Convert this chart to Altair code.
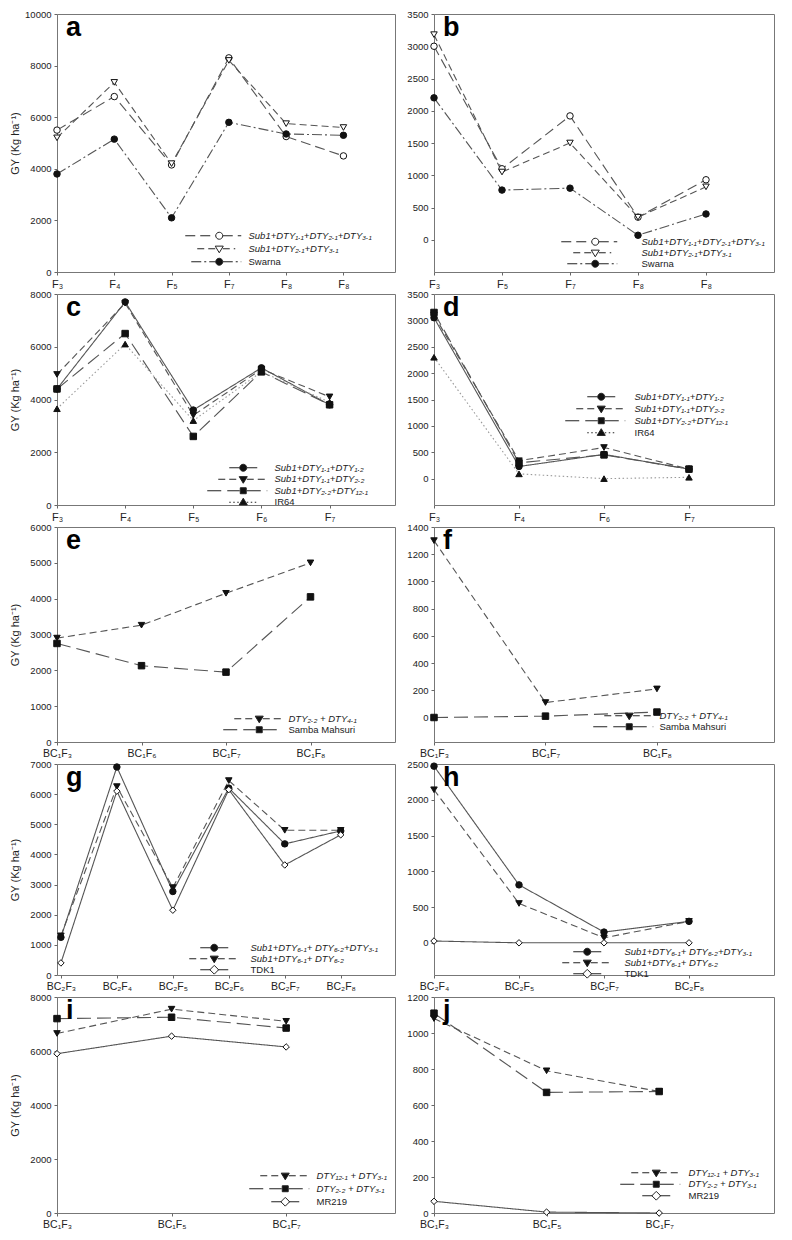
import json
import altair as alt
import pandas as pd

# ---------------- data ----------------
a_x = ["F₃", "F₄", "F₅", "F₇", "F₈", "F₈"]
a_s1 = [5500, 6800, 4150, 8300, 5250, 4500]
a_s2 = [5200, 7350, 4200, 8200, 5750, 5600]
a_s3 = [3800, 5150, 2100, 5800, 5350, 5300]

b_x = ["F₃", "F₅", "F₇", "F₈", "F₈"]
b_s1 = [3000, 1100, 1920, 350, 930]
b_s2 = [3180, 1050, 1500, 350, 820]
b_s3 = [2200, 770, 800, 70, 400]

c_x = ["F₃", "F₄", "F₅", "F₆", "F₇"]
c_s1 = [4400, 7700, 3600, 5200, 3800]
c_s2 = [4950, 7650, 3400, 5150, 4100]
c_s3 = [4400, 6500, 2600, 5050, 3800]
c_s4 = [3650, 6100, 3200, 5050, 3900]

d_x = ["F₃", "F₄", "F₆", "F₇"]
d_s1 = [3050, 230, 460, 180]
d_s2 = [3100, 340, 590, 180]
d_s3 = [3150, 300, 450, 180]
d_s4 = [2300, 90, 0, 25]

e_x = ["BC₁F₃", "BC₁F₆", "BC₁F₇", "BC₁F₈"]
e_s1 = [2900, 3260, 4150, 5000]
e_s2 = [2750, 2130, 1950, 4050]

f_x = ["BC₁F₃", "BC₁F₇", "BC₁F₈"]
f_s1 = [1300, 110, 210]
f_s2 = [0, 10, 40]

g_x = ["BC₂F₃", "BC₂F₄", "BC₂F₅", "BC₂F₆", "BC₂F₇", "BC₂F₈"]
g_s1 = [1250, 6900, 2770, 6200, 4350, 4780]
g_s2 = [1300, 6250, 2900, 6450, 4800, 4800]
g_s3 = [400, 6100, 2150, 6150, 3650, 4650]

h_x = ["BC₂F₄", "BC₂F₅", "BC₂F₇", "BC₂F₈"]
h_s1 = [2470, 810, 150, 300]
h_s2 = [2140, 550, 70, 300]
h_s3 = [25, 0, 0, 0]

i_x = ["BC₁F₃", "BC₁F₅", "BC₁F₇"]
i_s1 = [6650, 7550, 7100]
i_s2 = [7200, 7250, 6850]
i_s3 = [5900, 6550, 6150]

j_x = ["BC₁F₃", "BC₁F₅", "BC₁F₇"]
j_s1 = [1080, 790, 675]
j_s2 = [1110, 670, 675]
j_s3 = [65, 5, 0]

N_A1 = "Sub1+DTY₁.₁+DTY₂.₁+DTY₃.₁"
N_A2 = "Sub1+DTY₂.₁+DTY₃.₁"
N_SW = "Swarna"
N_C1 = "Sub1+DTY₁.₁+DTY₁.₂"
N_C2 = "Sub1+DTY₁.₁+DTY₂.₂"
N_C3 = "Sub1+DTY₂.₂+DTY₁₂.₁"
N_IR = "IR64"
N_E1 = "DTY₂.₂ + DTY₄.₁"
N_SM = "Samba Mahsuri"
N_G1 = "Sub1+DTY₆.₁+ DTY₆.₂+DTY₃.₁"
N_G2 = "Sub1+DTY₆.₁+ DTY₆.₂"
N_TD = "TDK1"
N_I1 = "DTY₁₂.₁ + DTY₃.₁"
N_I2 = "DTY₂.₂ + DTY₃.₁"
N_MR = "MR219"

# ---------------- styles ----------------
MARK_PATH = {
    "circle": "M1,0A1,1,0,1,1,-1,0A1,1,0,1,1,1,0Z",
    "triangle-down": "M-1.15,-0.75L1.15,-0.75L0,1.15Z",
    "triangle-up": "M-1.15,0.75L1.15,0.75L0,-1.15Z",
    "square": "M-0.85,-0.85L0.85,-0.85L0.85,0.85L-0.85,0.85Z",
    "diamond": "M0,-1.25L1.25,0L0,1.25L-1.25,0Z",
}
STY = {
    "oc_long": dict(shape="circle", fill="white", dash=[10, 5], line="#555", L=34, R=22),
    "otd_med": dict(shape="triangle-down", fill="white", dash=[7, 4], line="#555", L=22, R=16),
    "fc_dashdot": dict(shape="circle", fill="#111", dash=[10, 3, 2, 3], line="#555", L=28, R=22),
    "fc_solid": dict(shape="circle", fill="#111", dash=[1, 0], line="#555", L=14, R=14),
    "ftd_med": dict(shape="triangle-down", fill="#111", dash=[7, 4], line="#555", L=25, R=22),
    "fsq_long": dict(shape="square", fill="#111", dash=[14, 6], line="#555", L=36, R=24),
    "ftu_dot": dict(shape="triangle-up", fill="#111", dash=[1.5, 2.5], line="#999", L=14, R=14),
    "od_solid": dict(shape="diamond", fill="white", dash=[1, 0], line="#555", L=14, R=14),
}
R_SYM = 3.5  # legend marker radius (px)


def dash_part(a, b, dash):
    r = R_SYM
    if dash[1] == 0:
        return f"M{a / r:.3f},0H{b / r:.3f}"
    out, pos, k = [], a, 0
    while pos < b - 1e-6:
        ln = dash[k % len(dash)]
        end = min(pos + ln, b)
        if k % 2 == 0:
            out.append(f"M{pos / r:.3f},0H{end / r:.3f}")
        pos, k = end, k + 1
    return "".join(out)


def legend_path(key, gap):
    s = STY[key]
    rr = min(s["R"], gap - 5)
    return dash_part(-s["L"], -R_SYM, s["dash"]) + MARK_PATH[s["shape"]] + dash_part(R_SYM, rr, s["dash"])


ITALIC = {"expr": "indexof(datum.label, 'DTY') >= 0 ? 'italic' : 'normal'"}


def panel(letter, xlabels, series, ydom, yvals, xdom, width, height, left, leg):
    cx, cy, spacing, gap = leg
    rows = []
    for name, vals, key in series:
        for i, v in enumerate(vals):
            rows.append({"x": i, "v": v, "series": name})
    df = pd.DataFrame(rows)
    names = [s[0] for s in series]
    keys = [s[2] for s in series]
    label_expr = json.dumps(xlabels, ensure_ascii=False) + "[datum.value]"
    x = alt.X(
        "x:Q",
        scale=alt.Scale(domain=xdom, nice=False, zero=False),
        axis=alt.Axis(values=list(range(len(xlabels))), labelExpr=label_expr, title=None,
                      labelFlush=False, labelOverlap=False, tickSize=3,
                      labelFontSize=11 if len(xlabels[0]) < 4 else 10.5,
                      labelPadding=3),
    )
    yaxis = dict(values=yvals, format="d", tickSize=3, labelPadding=3, labelFontSize=9.5)
    if left:
        yaxis.update(title="GY (Kg ha⁻¹)", titleFontSize=11, titleFontWeight="normal",
                     titleX=-42, titleY=height / 2, titleBaseline="middle", titleAngle=270)
    y = alt.Y("v:Q", scale=alt.Scale(domain=ydom, nice=False, zero=False),
              axis=alt.Axis(**yaxis) if left else alt.Axis(title=None, **yaxis))

    line = alt.Chart(df).mark_line(strokeWidth=1.1).encode(
        x=x, y=y, detail="series:N",
        strokeDash=alt.StrokeDash("series:N", scale=alt.Scale(domain=names, range=[STY[k]["dash"] for k in keys]), legend=None),
        color=alt.Color("series:N", scale=alt.Scale(domain=names, range=[STY[k]["line"] for k in keys]), legend=None),
    )
    pts = alt.Chart(df).mark_point(size=42, strokeWidth=1, opacity=1, stroke="#111").encode(
        x=x, y=y,
        shape=alt.Shape("series:N", scale=alt.Scale(domain=names, range=[STY[k]["shape"] for k in keys]), legend=None),
        fill=alt.Fill("series:N", scale=alt.Scale(domain=names, range=[STY[k]["fill"] for k in keys]), legend=None),
    )
    lg_def = dict(
        title=None, orient="none", legendX=cx - R_SYM, legendY=cy - 6,
        symbolSize=(2 * R_SYM) ** 2, symbolStrokeWidth=1,
        labelFontSize=9.5, labelFont="Liberation Sans", labelColor="#222", labelFontStyle=ITALIC,
        labelOffset=gap - R_SYM, rowPadding=spacing - 12.5, labelLimit=300,
    )
    paths = [legend_path(k, gap) for k in keys]
    lg = alt.Chart(df).transform_filter("false").mark_point(size=(2 * R_SYM) ** 2, strokeWidth=1, opacity=1).encode(
        x=x, y=y,
        shape=alt.Shape("series:N", scale=alt.Scale(domain=names, range=paths), legend=alt.Legend(**lg_def)),
        fill=alt.Fill("series:N", scale=alt.Scale(domain=names, range=[STY[k]["fill"] for k in keys]), legend=alt.Legend(**lg_def)),
        stroke=alt.Stroke("series:N", scale=alt.Scale(domain=names, range=["#222"] * len(names)), legend=alt.Legend(**lg_def)),
    )
    tag = alt.Chart(pd.DataFrame({"t": [letter]})).mark_text(
        fontSize=27, fontWeight="bold", font="Liberation Sans", align="left", baseline="top", color="#000"
    ).encode(text="t:N", x=alt.value(9), y=alt.value(1))
    return alt.layer(line, pts, lg, tag).resolve_scale(
        shape="independent", fill="independent", stroke="independent"
    ).properties(width=width, height=height)


WL, WR = 338, 340
H = [258, 211, 215, 211, 216]

pa = panel("a", a_x, [(N_A1, a_s1, "oc_long"), (N_A2, a_s2, "otd_med"), (N_SW, a_s3, "fc_dashdot")],
           [0, 10000], list(range(0, 10001, 2000)), [0, 5.9], WL, H[0], True, (161, 223, 13.5, 28))
pb = panel("b", b_x, [(N_A1, b_s1, "oc_long"), (N_A2, b_s2, "otd_med"), (N_SW, b_s3, "fc_dashdot")],
           [-500, 3500], list(range(0, 3501, 500)), [0, 5.0], WR, H[0], False, (160, 229, 11.5, 45))
pc = panel("c", c_x, [(N_C1, c_s1, "fc_solid"), (N_C2, c_s2, "ftd_med"), (N_C3, c_s3, "fsq_long"), (N_IR, c_s4, "ftu_dot")],
           [0, 8000], list(range(0, 8001, 2000)), [0, 4.96], WL, H[1], True, (185, 175, 12, 30))
pd_ = panel("d", d_x, [(N_C1, d_s1, "fc_solid"), (N_C2, d_s2, "ftd_med"), (N_C3, d_s3, "fsq_long"), (N_IR, d_s4, "ftu_dot")],
            [-500, 3500], list(range(0, 3501, 500)), [0, 4.0], WR, H[1], False, (166, 104, 12.5, 32))
pe = panel("e", e_x, [(N_E1, e_s1, "ftd_med"), (N_SM, e_s2, "fsq_long")],
           [0, 6000], list(range(0, 6001, 1000)), [0, 4.0], WL, H[2], True, (201, 193, 11, 28))
pf = panel("f", f_x, [(N_E1, f_s1, "ftd_med"), (N_SM, f_s2, "fsq_long")],
           [-180, 1400], list(range(0, 1401, 200)), [0, 3.05], WR, H[2], False, (194, 190, 10.5, 29))
pg = panel("g", g_x, [(N_G1, g_s1, "fc_solid"), (N_G2, g_s2, "ftd_med"), (N_TD, g_s3, "od_solid")],
           [0, 7000], list(range(0, 7001, 1000)), [-0.07, 5.97], WL, H[3], True, (156, 185, 10.5, 35))
ph = panel("h", h_x, [(N_G1, h_s1, "fc_solid"), (N_G2, h_s2, "ftd_med"), (N_TD, h_s3, "od_solid")],
           [-450, 2500], list(range(0, 2501, 500)), [0, 4.0], WR, H[3], False, (152, 189, 10.5, 36))
pi = panel("i", i_x, [(N_I1, i_s1, "ftd_med"), (N_I2, i_s2, "fsq_long"), (N_MR, i_s3, "od_solid")],
           [0, 8000], list(range(0, 8001, 2000)), [0, 2.95], WL, H[4], True, (227, 180, 13.5, 30))
pj = panel("j", j_x, [(N_I1, j_s1, "ftd_med"), (N_I2, j_s2, "fsq_long"), (N_MR, j_s3, "od_solid")],
           [0, 1200], list(range(0, 1201, 200)), [0, 3.02], WR, H[4], False, (221, 177, 12, 31))

chart = (
    alt.concat(pa, pb, pc, pd_, pe, pf, pg, ph, pi, pj, columns=2,
               spacing={"row": 22, "column": 39}, bounds="flush")
    .resolve_scale(strokeDash="independent", color="independent", shape="independent",
                   fill="independent", stroke="independent")
    .properties(padding={"left": 0, "top": 0, "right": 0, "bottom": 0})
    .configure(font="Liberation Sans")
    .configure_view(stroke="#777", strokeWidth=1)
    .configure_axis(grid=False, domain=False, tickColor="#666", labelColor="#222", titleColor="#222")
)
chart.save("out.html", embed_options={"renderer": "svg", "actions": False})
